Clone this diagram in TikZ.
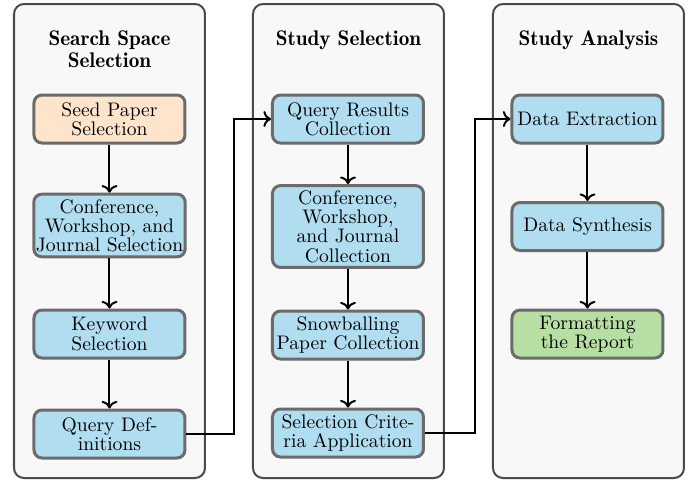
\documentclass[tikz,border=0pt]{standalone}
\usepackage{tikz}
\usetikzlibrary{arrows.meta}
\definecolor{panelfill}{HTML}{F8F8F8}
\definecolor{paneldraw}{HTML}{4A4A4A}
\definecolor{boxdraw}{HTML}{6B6B6B}
\definecolor{boxblue}{HTML}{B0DDF0}
\definecolor{boxpeach}{HTML}{FDE4CB}
\definecolor{boxgreen}{HTML}{B7DFA3}

\begin{document}
\begin{tikzpicture}[x=0.5pt, y=-0.5pt,
        panel/.style={draw=paneldraw, fill=panelfill, line width=1pt, rounded corners=5pt},
        paneltitle/.style={anchor=north, inner sep=0pt, align=center, font={\fontsize{10.6}{11}\fontseries{b}\selectfont}},
        procbox/.style={draw=boxdraw, fill=boxblue, line width=1.5pt, rounded corners=4pt,
            minimum width=75.5pt, minimum height=24pt, inner xsep=1pt, inner ysep=2.5pt, align=center,
            font={\fontsize{9.8}{9.6}\selectfont}},
        flow/.style={->, line width=1pt}]
        \useasboundingbox (0,0) rectangle (693,479);
        % the three stages
        \draw [panel] (14,4) rectangle (205,478);
        \draw [panel] (253,4) rectangle (444,478);
        \draw [panel] (493,4) rectangle (684,478);
        \node [paneltitle] (t1) at (109.5, 30) {Search Space\\Selection};
        \node [paneltitle] (t2) at (348.5, 30) {Study Selection};
        \node [paneltitle] (t3) at (588.5, 30) {Study Analysis};
        % search space selection
        \node [procbox, fill=boxpeach] (seed) at (109.5, 119) {Seed Paper\\Selection};
        \node [procbox] (venue) at (109.5, 225.5) {Conference,\\Workshop, and\\Journal Selection};
        \node [procbox] (keyword) at (109.5, 334) {Keyword\\Selection};
        \node [procbox] (qdef) at (109.5, 434) {Query Def-\\initions};
        % study selection
        \node [procbox] (qres) at (348, 119) {Query Results\\Collection};
        \node [procbox] (vcoll) at (348, 226.5) {Conference,\\Workshop,\\and Journal\\Collection};
        \node [procbox] (snow) at (348, 335) {Snowballing\\Paper Collection};
        \node [procbox] (crit) at (348, 433) {Selection Crite-\\ria Application};
        % study analysis
        \node [procbox] (extract) at (587.5, 119) {Data Extraction};
        \node [procbox] (synth) at (587.5, 226.5) {Data Synthesis};
        \node [procbox, fill=boxgreen] (report) at (587.5, 334) {Formatting\\the Report};
        \foreach \a/\b in {seed/venue, venue/keyword, keyword/qdef, qres/vcoll, vcoll/snow, snow/crit, extract/synth, synth/report}
            \draw [flow] (\a) -- (\b);
        \draw [flow] (qdef.east) -- ++(48,0) |- (qres.west);
        \draw [flow] (crit.east) -- ++(50,0) |- (extract.west);
    \end{tikzpicture}
\end{document}
